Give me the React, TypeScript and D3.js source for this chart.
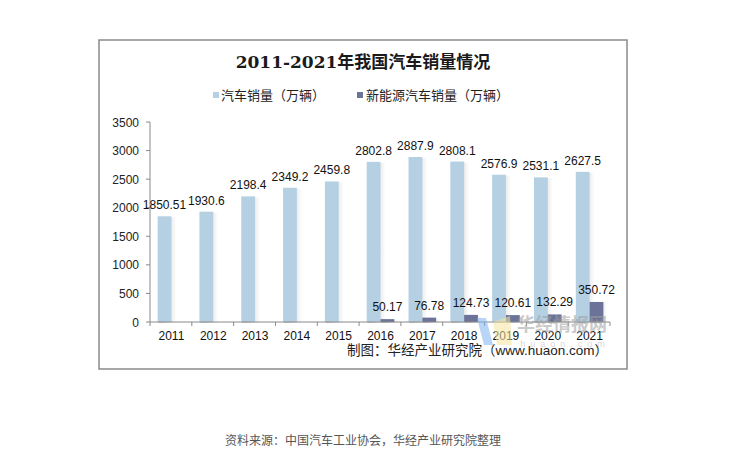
import React from "react";
import * as d3 from "d3";

const years = ["2011","2012","2013","2014","2015","2016","2017","2018","2019","2020","2021"];
const totalSales = [1850.51,1930.6,2198.4,2349.2,2459.8,2802.8,2887.9,2808.1,2576.9,2531.1,2627.5];
const totalLabels = ["1850.51","1930.6","2198.4","2349.2","2459.8","2802.8","2887.9","2808.1","2576.9","2531.1","2627.5"];
const nevSales = [null,null,null,null,null,50.17,76.78,124.73,120.61,132.29,350.72];
const nevLabels = ["","","","","","50.17","76.78","124.73","120.61","132.29","350.72"];
const yTicks = [0,500,1000,1500,2000,2500,3000,3500];
const title = "2011-2021年我国汽车销量情况";
const seriesNames = ["汽车销量（万辆）","新能源汽车销量（万辆）"];
const credit = "制图：华经产业研究院（www.huaon.com）";
const source = "资料来源：中国汽车工业协会，华经产业研究院整理";

const LIGHT = "#b5d0e3";
const DARK = "#6b7398";
const FONT = "Arial, 'Liberation Sans', 'Noto Sans CJK SC', sans-serif";

export default function App() {
  const left = 150, right = 610, top = 122, bottom = 322;
  const x = d3.scaleBand<string>().domain(years).range([left, right]).paddingInner(0).paddingOuter(0);
  const y = d3.scaleLinear().domain([0, 3500]).range([bottom, top]);
  const bw = 13.8;
  const cx = (yr: string) => (x(yr) as number) + x.bandwidth() / 2 + 0.5;

  return (
    <svg width={729} height={472} style={{ position: "absolute", left: 0, top: 0, background: "#fff" }}>
      <defs>
        <linearGradient id="shadow" x1="0" x2="1" y1="0" y2="0">
          <stop offset="0" stopColor="#888" stopOpacity={0.55} />
          <stop offset="1" stopColor="#888" stopOpacity={0} />
        </linearGradient>
      </defs>
      <rect x={0} y={0} width={729} height={472} fill="#fff" />
      <rect x={99} y={40} width={528} height={329} fill="#fff" stroke="#8a8a8a" strokeWidth={1.5} />
      <text x={363} y={68} textAnchor="middle" fontSize={17} fontWeight="bold"
        fontFamily="'DejaVu Serif', 'Liberation Serif', 'Noto Sans CJK SC', serif" fill="#1a1a1a">{title}</text>
      {/* legend */}
      <rect x={213} y={92} width={6} height={6} fill={LIGHT} />
      <text x={221} y={100} fontSize={13} fontFamily={FONT} fill="#222">{seriesNames[0]}</text>
      <rect x={357} y={92} width={6} height={6} fill={DARK} />
      <text x={366} y={100} fontSize={13} fontFamily={FONT} fill="#222">{seriesNames[1]}</text>

      {/* y axis */}
      <line x1={left} x2={left} y1={top} y2={bottom} stroke="#8a8a8a" />
      {yTicks.map(t => (
        <g key={t}>
          <line x1={left - 4} x2={left} y1={y(t)} y2={y(t)} stroke="#8a8a8a" />
          <text x={139} y={y(t) + 4.5} textAnchor="end" fontSize={12} fontFamily={FONT} fill="#222">{t}</text>
        </g>
      ))}

      {/* bars */}
      {years.map((yr, i) => {
        const c = cx(yr);
        const v = totalSales[i];
        const n = nevSales[i];
        return (
          <g key={yr}>
            <rect x={c - bw} y={y(v)} width={bw + 4} height={bottom - y(v)} fill="url(#shadow)" transform="translate(1,1)" />
            <rect x={c - bw} y={y(v)} width={bw} height={bottom - y(v)} fill={LIGHT} />
            <text x={c - bw / 2} y={y(v) - 7} textAnchor="middle" fontSize={12} fontFamily={FONT} fill="#111">{totalLabels[i]}</text>
            {n != null && (
              <>
                <rect x={c} y={y(n)} width={bw + 3} height={bottom - y(n)} fill="url(#shadow)" transform="translate(1,1)" />
                <rect x={c} y={y(n)} width={bw} height={bottom - y(n)} fill={DARK} />
                <text x={c + bw / 2} y={y(n) - 8} textAnchor="middle" fontSize={12} fontFamily={FONT} fill="#111">{nevLabels[i]}</text>
              </>
            )}
          </g>
        );
      })}

      {/* x axis */}
      <line x1={left} x2={right} y1={bottom} y2={bottom} stroke="#8a8a8a" />
      {years.map(yr => (
        <line key={"t" + yr} x1={x(yr) as number} x2={x(yr) as number} y1={bottom} y2={bottom + 4} stroke="#8a8a8a" />
      ))}
      <line x1={right} x2={right} y1={bottom} y2={bottom + 4} stroke="#8a8a8a" />
      {years.map(yr => (
        <text key={"l" + yr} x={cx(yr)} y={340} textAnchor="middle" fontSize={12} fontFamily={FONT} fill="#111">{yr}</text>
      ))}

      {/* watermark */}
      <g opacity={0.55}>
        <polygon points="477,318 486,318 493,345 484,345" fill="#7fb2ef" />
        <polygon points="493,322 510,316 512,345 497,345" fill="#f6e7a0" />
        <text x={562} y={331} textAnchor="middle" fontSize={18} fontWeight="bold" fontFamily={FONT} fill="#a0a0a0">华经情报网</text>
        <text x={565} y={347} textAnchor="middle" fontSize={9} letterSpacing={5} fontFamily={FONT} fill="#b8b8b8">huaon.com</text>
      </g>

      <text x={608} y={355} textAnchor="end" fontSize={13.5} fontFamily={FONT} fill="#222">{credit}</text>

      <text x={363} y={445} textAnchor="middle" fontSize={12} fontFamily={FONT} fill="#555">{source}</text>
    </svg>
  );
}
